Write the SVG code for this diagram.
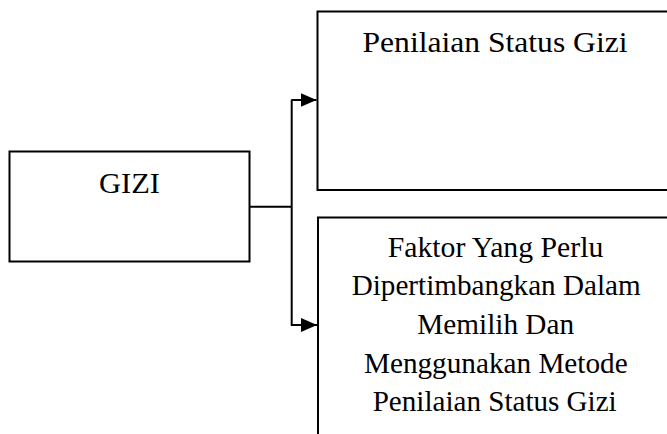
<svg xmlns="http://www.w3.org/2000/svg" width="667" height="434" viewBox="0 0 667 434">
  <style>
    .box { fill: #ffffff; stroke: #000000; stroke-width: 2; }
    .lbl { font-family: "Liberation Serif", "Times New Roman", serif; font-size: 29px; fill: #000000; text-anchor: middle; }
    .wire { fill: none; stroke: #000000; stroke-width: 2; }
  </style>
  <defs>
    <marker id="arr" viewBox="0 0 16 14" refX="16" refY="7" markerWidth="16" markerHeight="14" markerUnits="userSpaceOnUse" orient="auto">
      <path d="M0,0 L16,7 L0,14 Z" fill="#000000"/>
    </marker>
  </defs>
  <rect width="667" height="434" fill="#ffffff"/>

  <g id="node-gizi">
    <rect class="box" x="9.5" y="151.5" width="240" height="110"/>
    <text class="lbl" x="129.5" y="193.3" textLength="61" lengthAdjust="spacingAndGlyphs">GIZI</text>
  </g>

  <g id="node-penilaian">
    <rect class="box" x="317.5" y="11.5" width="380" height="178.5"/>
    <text class="lbl" x="495" y="52.3" textLength="265" lengthAdjust="spacingAndGlyphs">Penilaian Status Gizi</text>
  </g>

  <g id="node-faktor">
    <rect class="box" x="318" y="217.5" width="380" height="240"/>
    <text class="lbl" x="495.5" y="257.3" textLength="215.6" lengthAdjust="spacingAndGlyphs">Faktor Yang Perlu</text>
    <text class="lbl" x="496.2" y="295.3" textLength="289" lengthAdjust="spacingAndGlyphs">Dipertimbangkan Dalam</text>
    <text class="lbl" x="495.7" y="333.5" textLength="156.7" lengthAdjust="spacingAndGlyphs">Memilih Dan</text>
    <text class="lbl" x="495.8" y="372.5" textLength="263.7" lengthAdjust="spacingAndGlyphs">Menggunakan Metode</text>
    <text class="lbl" x="494.7" y="410.7" textLength="244" lengthAdjust="spacingAndGlyphs">Penilaian Status Gizi</text>
  </g>

  <g id="connectors">
    <line class="wire" x1="250" y1="206.7" x2="291.7" y2="206.7" stroke-width="1.5"/>
    <line class="wire" x1="291.7" y1="99.5" x2="291.7" y2="326"/>
    <path class="wire" d="M291.7,100 L316.5,100" marker-end="url(#arr)"/>
    <path class="wire" d="M291.7,325 L317,325" marker-end="url(#arr)"/>
  </g>
</svg>
